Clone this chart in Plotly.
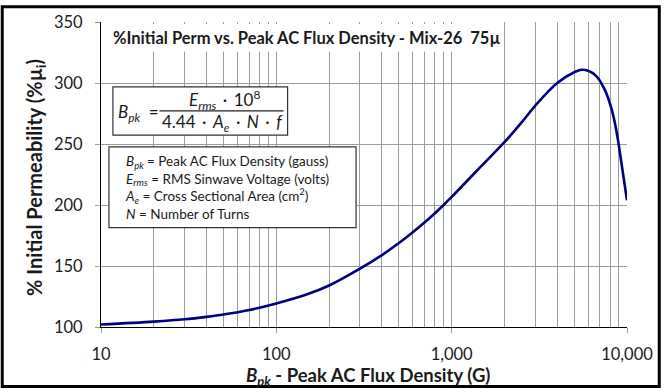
import plotly.graph_objects as go

# ---------------- data ----------------
flux_density = [10, 20, 30, 40, 50, 70, 100, 150, 200, 300, 400, 500, 600, 700, 800,
                900, 1000, 1400, 2000, 2500, 3000, 4000, 5000, 5500, 6000, 6660,
                7500, 8200, 8750, 9350, 10000]
perm_percent = [102.0, 104.4, 106.3, 108.3, 110.2, 113.9, 119.3, 126.8, 134.0, 147.8,
                158.9, 168.8, 177.7, 185.7, 193.1, 200.0, 206.6, 228.5, 251.5, 267.5,
                281.5, 300.0, 308.8, 310.8, 310.0, 305.9, 294.0, 277.7, 258.9, 232.0,
                203.8]

x_major = [10, 100, 1000, 10000]
x_major_text = ["10", "100", "1,000", "10,000"]
x_minor = [v * m for m in (10, 100, 1000) for v in range(2, 10)]
y_tickvals = [100, 150, 200, 250, 300, 350]

title_text = "<b>%Initial Perm vs. Peak AC Flux Density - Mix-26 \u00a075µ</b>"
x_title = "<b><i>B</i><sub><i>pk</i></sub> - Peak AC Flux Density (G)</b>"
y_title = "<b>% Initial Permeability (%µ<sub>i</sub>)</b>"
SEP = "\u2009\u00a0·\u00a0\u2009"
formula_lhs = "<i>B</i><sub><i>pk</i></sub> \u00a0="
formula_num = "<i>E</i><sub><i>rms</i></sub>" + SEP + "10<sup>8</sup>"
formula_den = ("4.44" + SEP + "<i>A</i><sub><i>e</i></sub>" + SEP + "<i>N</i>" + SEP
               + "<i>f</i>")
legend_lines = [
    "<i>B</i><sub><i>pk</i></sub> = Peak AC Flux Density (gauss)",
    "<i>E</i><sub><i>rms</i></sub> = RMS Sinwave Voltage (volts)",
    "<i>A</i><sub><i>e</i></sub> = Cross Sectional Area (cm<sup>2</sup>)",
    "<i>N</i> = Number of Turns",
]

# ---------------- layout geometry (pixels) ----------------
W, H = 665, 389
L, R, T, B = 101, 34, 17, 62
PW, PH = W - L - R, H - T - B
FONT = "Lato, 'Open Sans', sans-serif"
TXT = "#1a1a1a"
GRID = "#9c9c9c"


def px(x):
    return (x - L) / PW


def py(y):
    return (H - B - y) / PH


fig = go.Figure()
fig.add_trace(go.Scatter(
    x=flux_density, y=perm_percent, mode="lines",
    line=dict(color="#000080", width=2.6, shape="spline", smoothing=1.0),
    hoverinfo="skip", showlegend=False,
))

fig.update_layout(
    width=W, height=H,
    margin=dict(l=L, r=R, t=T, b=B),
    paper_bgcolor="white", plot_bgcolor="white",
    font=dict(family=FONT, color=TXT, size=15),
    xaxis=dict(
        type="log", range=[1, 4],
        tickmode="array", tickvals=x_major, ticktext=x_major_text,
        showgrid=True, gridcolor=GRID, gridwidth=1,
        minor=dict(tickmode="array", tickvals=x_minor, showgrid=True,
                   gridcolor=GRID, gridwidth=1, ticks=""),
        showline=True, linecolor="black", linewidth=1,
        ticks="outside", ticklen=5, tickcolor=GRID,
        tickfont=dict(size=16.5, family=FONT, color=TXT),
        ticklabelstandoff=7,
        zeroline=False,
    ),
    yaxis=dict(
        range=[100, 350], tickmode="array", tickvals=y_tickvals,
        showgrid=True, gridcolor=GRID, gridwidth=1,
        showline=True, linecolor="black", linewidth=1,
        ticks="outside", ticklen=5, tickcolor=GRID,
        tickfont=dict(size=16.5, family=FONT, color=TXT),
        ticklabelstandoff=9,
        zeroline=False,
    ),
)

shapes = []
# white band behind the chart title
shapes.append(dict(type="rect", xref="paper", yref="paper",
                   x0=px(102), x1=px(498), y0=py(47), y1=py(19),
                   line=dict(width=0), fillcolor="white", layer="above"))
# formula box
shapes.append(dict(type="rect", xref="paper", yref="paper",
                   x0=px(113), x1=px(289), y0=py(132), y1=py(83),
                   line=dict(color="#333333", width=1.2), fillcolor="white", layer="above"))
# fraction bar
shapes.append(dict(type="line", xref="paper", yref="paper",
                   x0=px(160), x1=px(285), y0=py(107.3), y1=py(107.3),
                   line=dict(color="#222222", width=1.2), layer="above"))
# definitions box
shapes.append(dict(type="rect", xref="paper", yref="paper",
                   x0=px(109), x1=px(358), y0=py(226), y1=py(144),
                   line=dict(color="#333333", width=1.2), fillcolor="white", layer="above"))
# outer frame
shapes.append(dict(type="rect", xref="paper", yref="paper",
                   x0=px(1.5), x1=px(W - 1.5), y0=py(H - 1.5), y1=py(1.5),
                   line=dict(color="black", width=3), fillcolor="rgba(0,0,0,0)", layer="above"))
fig.update_layout(shapes=shapes)

ann = []
ann.append(dict(xref="paper", yref="paper", x=px(111), y=py(33), xanchor="left", yanchor="middle",
                text=title_text, showarrow=False, font=dict(size=16.5, family=FONT, color=TXT)))
ann.append(dict(xref="paper", yref="paper", x=px(370), y=py(377), xanchor="center", yanchor="middle",
                text=x_title, showarrow=False, font=dict(size=18.5, family=FONT, color=TXT)))
ann.append(dict(xref="paper", yref="paper", x=px(35), y=py(175), xanchor="center", yanchor="middle",
                text=y_title, textangle=-90, showarrow=False,
                font=dict(size=20, family=FONT, color=TXT)))
ann.append(dict(xref="paper", yref="paper", x=px(116), y=py(109), xanchor="left", yanchor="middle",
                text=formula_lhs, showarrow=False, font=dict(size=17, family=FONT, color=TXT)))
ann.append(dict(xref="paper", yref="paper", x=px(225), y=py(96), xanchor="center", yanchor="middle",
                text=formula_num, showarrow=False, font=dict(size=17, family=FONT, color=TXT)))
ann.append(dict(xref="paper", yref="paper", x=px(223), y=py(119.5), xanchor="center", yanchor="middle",
                text=formula_den, showarrow=False, font=dict(size=17, family=FONT, color=TXT)))
ann.append(dict(xref="paper", yref="paper", x=px(123), y=py(185), xanchor="left", yanchor="middle",
                align="left", text="<br>".join(legend_lines), showarrow=False,
                font=dict(size=13.5, family=FONT, color=TXT)))
fig.update_layout(annotations=ann)

fig.write_html("out.html",
               config={"displayModeBar": False},
               post_script="document.body.style.margin='0px';"
                           "document.body.style.overflow='hidden';")
